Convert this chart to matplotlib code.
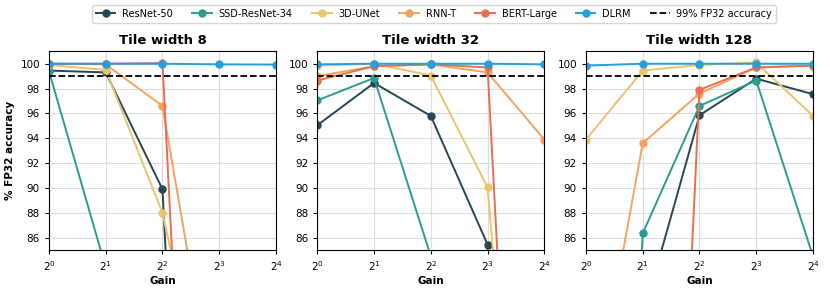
import matplotlib
matplotlib.use("Agg")
import matplotlib.pyplot as plt
from matplotlib.lines import Line2D

gains = [1, 2, 4, 8, 16]
titles = ["Tile width 8", "Tile width 32", "Tile width 128"]
models = ["ResNet-50", "SSD-ResNet-34", "3D-UNet", "RNN-T", "BERT-Large", "DLRM"]
colors = ["#264653", "#2a9d8f", "#e9c46a", "#f4a261", "#e76f51", "#239fda"]

# accuracy (% of FP32) per tile width, per model, per gain
tw8 = {
    "ResNet-50":     [99.45, 99.3, 89.9, 0.1, 0.1],
    "SSD-ResNet-34": [99.4, 83.6, 0.1, 0.1, 0.1],
    "3D-UNet":       [99.9, 99.5, 88.0, 67.2, 0.1],
    "RNN-T":         [100.0, 99.95, 96.6, 70.0, 0.1],
    "BERT-Large":    [100.0, 100.0, 100.05, 10.0, 0.1],
    "DLRM":          [100.0, 100.0, 100.0, 99.95, 99.93],
}
tw32 = {
    "ResNet-50":     [95.05, 98.45, 95.8, 85.45, 0.1],
    "SSD-ResNet-34": [97.05, 98.85, 84.5, 0.1, 0.1],
    "3D-UNet":       [99.85, 100.0, 99.05, 90.05, 36.0],
    "RNN-T":         [99.0, 99.8, 99.95, 99.3, 93.9],
    "BERT-Large":    [98.65, 99.8, 99.95, 99.7, 13.5],
    "DLRM":          [99.95, 100.0, 100.0, 100.0, 99.95],
}
tw128 = {
    "ResNet-50":     [0.1, 79.6, 95.85, 98.8, 97.55],
    "SSD-ResNet-34": [0.1, 86.35, 96.6, 98.65, 84.5],
    "3D-UNet":       [93.9, 99.45, 99.9, 100.1, 95.8],
    "RNN-T":         [68.5, 93.6, 97.6, 99.7, 99.85],
    "BERT-Large":    [0.1, 0.1, 97.9, 99.7, 99.85],
    "DLRM":          [99.85, 100.0, 100.0, 100.0, 100.0],
}
panels = [tw8, tw32, tw128]
threshold = 99.0

fig = plt.figure(figsize=(8.3, 2.94), dpi=100)
lefts = [0.059, 0.3823, 0.706]
for i, (data, title) in enumerate(zip(panels, titles)):
    ax = fig.add_axes([lefts[i], 0.1493, 0.2735, 0.6762])
    for m, c in zip(models, colors):
        ax.plot(gains, data[m], marker="o", color=c, markersize=5, linewidth=1.4, label=m)
    ax.axhline(threshold, color="black", linestyle="--", linewidth=1.3)
    ax.set_xscale("log", base=2)
    ax.set_xlim(1, 16)
    ax.set_ylim(85, 101)
    ax.set_yticks([86, 88, 90, 92, 94, 96, 98, 100])
    ax.grid(True, color="#dddddd", linewidth=0.8)
    ax.set_axisbelow(True)
    ax.tick_params(labelsize=7.5, length=3)
    ax.set_title(title, fontsize=9.5, fontweight="bold", pad=5)
    ax.set_xlabel("Gain", fontsize=7.5, fontweight="bold", labelpad=2)
    if i == 0:
        ax.set_ylabel("% FP32 accuracy", fontsize=7.5, fontweight="bold")

handles = [Line2D([0], [0], color=c, marker="o", markersize=5, linewidth=1.4) for c in colors]
handles.append(Line2D([0], [0], color="black", linestyle="--", linewidth=1.3))
labels = models + ["99% FP32 accuracy"]
fig.legend(handles, labels, loc="upper center", bbox_to_anchor=(0.523, 1.0), ncol=7,
           fontsize=7, frameon=True, handlelength=2.0, columnspacing=2.0, handletextpad=0.7,
           borderpad=0.4)

fig.savefig("out.png", dpi=100)
